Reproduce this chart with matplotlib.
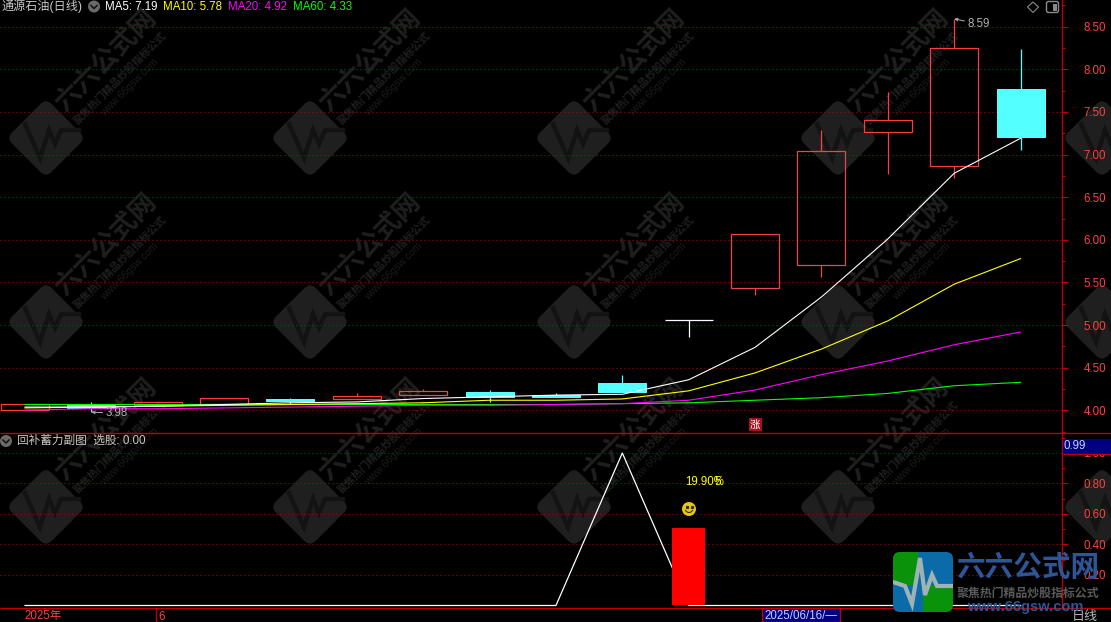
import matplotlib
matplotlib.use('Agg')
import matplotlib.pyplot as plt
import numpy as np
from matplotlib.patches import FancyBboxPatch, Rectangle, Circle, Polygon
from matplotlib.transforms import Affine2D
from matplotlib.ticker import MultipleLocator, FormatStrFormatter

# ---------- data ----------
opens  = [4.01, 4.07, 4.06, 4.08, 4.135, 4.135, 4.18, 4.22, 4.18, 4.32, 5.055, 5.43, 5.70, 7.26, 6.86, 7.77]
closes = [4.08, 4.03, 4.10, 4.146, 4.11, 4.17, 4.225, 4.16, 4.16, 4.22, 5.055, 6.07, 7.04, 7.40, 8.245, 7.20]
highs  = [4.08, 4.10, 4.10, 4.146, 4.15, 4.20, 4.25, 4.24, 4.205, 4.415, 5.06, 6.07, 7.29, 7.73, 8.59, 8.24]
lows   = [4.01, 3.98, 4.06, 4.08, 4.08, 4.13, 4.18, 4.10, 4.16, 4.22, 4.86, 5.35, 5.56, 6.77, 6.73, 7.05]
ma5  = [4.04, 4.04, 4.05, 4.07, 4.09, 4.10, 4.14, 4.16, 4.18, 4.19, 4.36, 4.74, 5.33, 6.01, 6.78, 7.19]
ma10 = [4.03, 4.04, 4.05, 4.06, 4.07, 4.08, 4.09, 4.12, 4.12, 4.135, 4.23, 4.44, 4.72, 5.05, 5.48, 5.78]
ma20 = [4.005, 4.02, 4.02, 4.03, 4.04, 4.05, 4.06, 4.06, 4.07, 4.08, 4.12, 4.24, 4.42, 4.58, 4.77, 4.92]
ma60 = [4.07, 4.07, 4.07, 4.07, 4.07, 4.07, 4.07, 4.07, 4.07, 4.08, 4.09, 4.12, 4.15, 4.20, 4.29, 4.33]
ma_labels = ['MA5', 'MA10', 'MA20', 'MA60']
ma_values = [7.19, 5.78, 4.92, 4.33]
indicator = [0, 0, 0, 0, 0, 0, 0, 0, 0, 1.0, 0, 0, 0, 0, 0, 0]
signal_bar = [0, 0, 0, 0, 0, 0, 0, 0, 0, 0, 0.51, 0, 0, 0, 0, 0]
price_ticks = [4.0, 4.5, 5.0, 5.5, 6.0, 6.5, 7.0, 7.5, 8.0, 8.5]
sub_ticks = [0.2, 0.4, 0.6, 0.8, 1.0]
title = '通源石油(日线)'
sub_title = '回补蓄力副图  选股: 0.00'
date_label = '2025/06/16/—'
pct_label = '19.90%'

# ---------- style ----------
W, H = 1111, 622
AX_RED = '#c00000'
LBL_RED = '#ff4040'
UP = '#ff3c3c'
UP_DIM = '#e84848'
CYAN = '#54ffff'
GREY = '#b0b0b0'
FONT = ['Liberation Sans', 'Noto Sans CJK SC']
PX = 0.72
x = np.arange(len(opens))
xlim = (-25 / 66.37, (1062 - 25) / 66.37)

fig = plt.figure(figsize=(W / 100, H / 100), dpi=100, facecolor='black')
plt.rcParams['font.family'] = FONT

# ---------- background watermark ----------
bg = fig.add_axes([0, 0, 1, 1], zorder=0)
bg.set_xlim(0, W); bg.set_ylim(H, 0); bg.axis('off')
WM = '#1f1f1f'
for cy in (138, 322, 507):
    for cx in (46, 310, 574, 838, 1102):
        t = Affine2D().rotate_deg_around(cx, cy, 45) + bg.transData
        bg.add_patch(FancyBboxPatch((cx - 20, cy - 20), 40, 40, boxstyle='round,pad=8,rounding_size=8',
                                    fc=WM, ec='none', transform=t, zorder=1))
        px = np.array([-21, -6, 3, 9, 15, 33]) + cx
        py = np.array([-14, 20, -8, 6, -8, -8]) + cy
        bg.plot(px, py, color='#131313', lw=3.2, zorder=2, solid_joinstyle='miter')
        if cx > 1000:
            continue
        bg.text(cx + 60, cy - 78, '六六公式网', color=WM, fontsize=19, fontweight='bold', rotation=45,
                ha='center', va='center', rotation_mode='anchor', family='Noto Sans CJK SC', zorder=2)
        bg.text(cx + 74, cy - 60, '聚焦热门精品炒股指标公式', color=WM, fontsize=7.6, fontweight='bold', rotation=45,
                ha='center', va='center', rotation_mode='anchor', family='Noto Sans CJK SC', zorder=2)
        bg.text(cx + 84, cy - 51, 'www.66gsw.com', color='#1b1b1b', fontsize=7.5, rotation=45,
                ha='center', va='center', rotation_mode='anchor', family='Liberation Sans', zorder=2)

# ---------- main price panel ----------
ax = fig.add_axes([0, 1 - 433 / H, 1062 / W, 433 / H], zorder=1)
ax.patch.set_alpha(0)
ax.set_xlim(*xlim)
ax.set_ylim(3.736, 8.811)
for s in ('top', 'left', 'bottom'):
    ax.spines[s].set_visible(False)
ax.spines['right'].set_color(AX_RED)
ax.spines['right'].set_linewidth(1.0)
ax.set_xticks([])
ax.yaxis.tick_right()
ax.set_yticks(price_ticks)
ax.yaxis.set_major_formatter(FormatStrFormatter('%.2f'))
ax.yaxis.set_minor_locator(MultipleLocator(0.25))
ax.tick_params(axis='y', which='major', colors=AX_RED, labelcolor=LBL_RED, length=4.3, width=PX,
               pad=11, labelsize=8.3)
ax.tick_params(axis='y', which='minor', colors=AX_RED, length=2.2, width=PX)
ax.grid(axis='y', which='major', color='#c00000', lw=PX, ls=(0, (1, 3)), zorder=0)
ax.set_axisbelow(True)

dim_idx = {6, 11, 12}
for i in x:
    o, c, h, l = opens[i], closes[i], highs[i], lows[i]
    top, bot = max(o, c), min(o, c)
    if c < o:
        col = CYAN
    elif c == o:
        col = 'white'
    else:
        col = UP_DIM if i in dim_idx else UP
    ax.vlines(i, top, h, color=col, lw=0.9, zorder=2)
    ax.vlines(i, l, bot, color=col, lw=0.9, zorder=2)
    if c < o:
        ax.bar(i, top - bot, bottom=bot, width=0.723, facecolor=col, edgecolor=col, lw=PX, zorder=2)
    elif c == o:
        ax.hlines(c, i - 0.36, i + 0.36, color=col, lw=0.9, zorder=2)
    else:
        ax.bar(i, top - bot, bottom=bot, width=0.723, facecolor='none', edgecolor=col, lw=0.9, zorder=2)

for series, col in ((ma60, '#00ff00'), (ma20, '#ff00ff'), (ma10, '#ffff00'), (ma5, 'white')):
    ax.plot(x, series, color=col, lw=0.8, zorder=3)

hi_i = int(np.argmax(highs)); lo_i = int(np.argmin(lows))
ax.annotate(f'{highs[hi_i]:.2f}', xy=(hi_i, highs[hi_i]), xytext=(13, -5), textcoords='offset pixels',
            color=GREY, fontsize=8.3, va='center', ha='left',
            arrowprops=dict(arrowstyle='->', color=GREY, lw=0.7, mutation_scale=5, shrinkA=0, shrinkB=0))
ax.annotate(f'{lows[lo_i]:.2f}', xy=(lo_i, lows[lo_i]), xytext=(14, -1), textcoords='offset pixels',
            color=GREY, fontsize=8.3, va='center', ha='left',
            arrowprops=dict(arrowstyle='->', color=GREY, lw=0.7, mutation_scale=5, shrinkA=0, shrinkB=0))

# ---------- sub panel ----------
sub = fig.add_axes([0, 1 - 608 / H, 1062 / W, 175 / H], zorder=1)
sub.patch.set_alpha(0)
sub.set_xlim(*xlim)
sub.set_ylim(-0.0164, 1.131)
for s in ('top', 'left', 'bottom'):
    sub.spines[s].set_visible(False)
sub.spines['right'].set_color(AX_RED)
sub.spines['right'].set_linewidth(1.0)
sub.set_xticks([])
sub.yaxis.tick_right()
sub.set_yticks(sub_ticks)
sub.yaxis.set_major_formatter(FormatStrFormatter('%.2f'))
sub.yaxis.set_minor_locator(MultipleLocator(0.1))
sub.tick_params(axis='y', which='major', colors=AX_RED, labelcolor=LBL_RED, length=4.3, width=PX,
                pad=11, labelsize=8.3)
sub.tick_params(axis='y', which='minor', colors=AX_RED, length=2.2, width=PX)
sub.grid(axis='y', which='major', color='#c00000', lw=PX, ls=(0, (1, 3)), zorder=0)
sub.set_axisbelow(True)
sub.plot(x, indicator, color='white', lw=0.9, zorder=2)
sub.bar(x, signal_bar, width=0.497, color='#ff0000', zorder=3)

# ---------- overlay: labels and decorations, pixel coordinates ----------
ov = fig.add_axes([0, 0, 1, 1], zorder=5)
ov.patch.set_alpha(0)
ov.set_xlim(0, W); ov.set_ylim(H, 0); ov.axis('off')
ov.hlines([433, 608], 0, W, color=AX_RED, lw=1.0, zorder=1)


def label(xp, yp, s, color, size=8.3, **kw):
    return ov.text(xp, yp, s, color=color, fontsize=size, ha=kw.pop('ha', 'left'), va='center', **kw)


def chevron(cx, cy):
    ov.add_patch(Circle((cx, cy), 6, fc='#6a6a6a', ec='none', zorder=2))
    ov.plot([cx - 3, cx, cx + 3], [cy - 1, cy + 2, cy - 1], color='#111111', lw=1.1, zorder=3)


label(2, 6.5, title, '#c8c8c8', size=8.7)
chevron(94, 6.5)
ma_x = [105, 163, 228, 293]
ma_cols = ['white', '#ffff00', '#ff00ff', '#00ff00']
for xp, nm, v, col in zip(ma_x, ma_labels, ma_values, ma_cols):
    label(xp, 6.5, f'{nm}: {v:.2f}', col)

ov.add_patch(Polygon([(1033, 2), (1038.5, 7), (1033, 12.5), (1027.5, 7)], closed=True, fc='none', ec='#8a8a8a', lw=0.8))
ov.add_patch(FancyBboxPatch((1048, 3), 9, 8, boxstyle='round,pad=1.5,rounding_size=2', fc='none', ec='#8a8a8a', lw=1))
ov.add_patch(Rectangle((1053, 3.5), 4, 7, fc='#8a8a8a', ec='none'))

chevron(6, 441)
label(17, 441, sub_title, '#c8c8c8', size=8.4)

# 涨 marker
ov.add_patch(Rectangle((748.5, 418), 13, 13, fc='#a81020', ec='none'))
ov.text(755, 424.5, '涨', color='white', fontsize=7.5, ha='center', va='center', family='Noto Sans CJK SC')

# selected value box
ov.add_patch(Rectangle((1063, 439), 48, 15, fc='#000080', ec='none', zorder=2))
ov.hlines(454, 1063, W, color=AX_RED, lw=1.0, zorder=3)
label(1064, 446, '0.99', '#c8d0ff', zorder=3)

# text above the bar
label(685, 482, pct_label, '#ffff00')
label(714, 482, '5', '#ffff00')
ov.add_patch(Circle((689, 509), 7, fc='#e8c810', ec='none'))
ov.plot([686.5, 691.5], [507, 507], ls='none', marker='s', ms=1.3, color='#303000')
ov.plot([685.5, 687, 689, 691, 692.5], [510.5, 512, 512.6, 512, 510.5], color='#303000', lw=0.8)

# bottom strip
label(24, 616.5, '2025年', LBL_RED)
ov.vlines(156, 608, H, color=AX_RED, lw=1.0)
label(158, 616.5, '6', LBL_RED)
ov.add_patch(Rectangle((762, 608), 78, 14, fc='#000080', ec=AX_RED, lw=1.0, zorder=2))
label(764, 616, date_label, '#c8d0ff', zorder=3)
label(1072, 617, '日线', '#b8b8b8', size=9.4)

# site logo
clip = FancyBboxPatch((896, 555), 54, 54, boxstyle='round,pad=3,rounding_size=7', fc='none', ec='none')
ov.add_patch(clip)
for rect, col in (((893, 552, 25, 33), '#0a930a'), ((918, 552, 35, 33), '#0b6aa8'),
                  ((893, 585, 30, 27), '#0b6aa8'), ((923, 585, 30, 27), '#0a930a')):
    r = Rectangle((rect[0], rect[1]), rect[2], rect[3], fc=col, ec='none', zorder=6)
    ov.add_patch(r)
    r.set_clip_path(clip)
ln, = ov.plot([893, 905, 912, 920, 925, 932, 937, 953], [582, 586, 604, 558, 595, 575, 586, 586],
              color='#9fb3b5', lw=3, zorder=7, solid_joinstyle='miter')
ln.set_clip_path(clip)
LOGO_BLUE = '#2f5597'
ov.text(1028, 567, '六六公式网', color=LOGO_BLUE, fontsize=20.6, fontweight='bold', ha='center', va='center',
        family='Noto Sans CJK SC', zorder=7)
ov.text(1028, 593, '聚焦热门精品炒股指标公式', color='#5a5a5a', fontsize=8.6, fontweight='bold', ha='center', va='center',
        family='Noto Sans CJK SC', zorder=7)
ov.text(1025, 607, 'www.66gsw.com', color=LOGO_BLUE, fontsize=10.5, fontweight='bold', ha='center', va='center',
        family='Liberation Sans', zorder=7)

fig.savefig('out.png', dpi=100, facecolor='black')
